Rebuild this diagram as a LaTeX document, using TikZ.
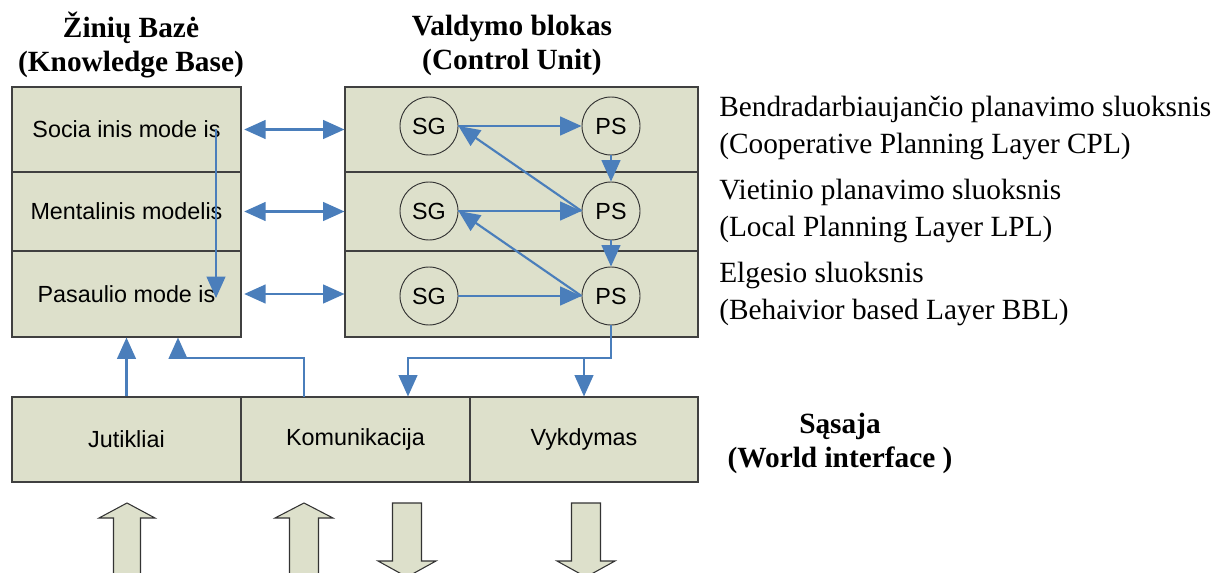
\documentclass[tikz,border=0pt]{standalone}
\usepackage{fontspec}
\setmainfont{Liberation Serif}
\setsansfont{Liberation Sans}
\usetikzlibrary{arrows.meta,calc}
\definecolor{boxfill}{HTML}{DDE0CB}
\definecolor{flow}{HTML}{4A7EBB}
\begin{document}
\begin{tikzpicture}[x=0.75pt,y=-0.75pt,
  panel/.style={draw=black!75,line width=0.8pt,fill=boxfill,inner sep=0pt,
    font=\sffamily\fontsize{17.5}{20}\selectfont},
  kbrow/.style={panel,minimum width=171.75pt},
  cuRow/.style={panel,minimum width=264.75pt},
  iface/.style={panel,minimum width=171.75pt,minimum height=63.75pt},
  unit/.style={circle,draw=black!80,line width=0.7pt,fill=boxfill,inner sep=0pt,
    minimum size=43.5pt,font=\sffamily\fontsize{17.5}{20}\selectfont},
  flowline/.style={draw=flow,line width=1.6pt},
  flowarrow/.style={flowline,-{Triangle[length=16pt,width=14pt]}},
  flowboth/.style={flowline,{Triangle[length=16pt,width=14pt]}-{Triangle[length=16pt,width=14pt]}},
  heading/.style={font=\rmfamily\bfseries\fontsize{22}{25.5}\selectfont,align=center},
  layerlabel/.style={font=\rmfamily\fontsize{22}{27.75}\selectfont,align=left,anchor=west,inner sep=0pt},
  bigarrow/.style={draw=black!80,line width=0.8pt,fill=boxfill}
]
\useasboundingbox (0,0) rectangle (1228,573);

% headings
\node[heading] (kbhead) at (131,45) {Žinių Bazė\\(Knowledge Base)};
\node[heading] (cuhead) at (512,45) {Valdymo blokas\\(Control Unit)};

% knowledge base rows
\node[kbrow,minimum height=63.75pt] (soc) at (126.5,129.5) {Socia inis mode is};
\node[kbrow,minimum height=59.25pt] (men) at (126.5,211.5) {Mentalinis modelis};
\node[kbrow,minimum height=64.5pt]  (pas) at (126.5,294)   {Pasaulio mode is};

% control unit layers
\node[cuRow,minimum height=63.75pt] (cpl) at (521.5,129.5) {};
\node[cuRow,minimum height=59.25pt] (lpl) at (521.5,211.5) {};
\node[cuRow,minimum height=64.5pt]  (bbl) at (521.5,294)   {};

% layer units
\node[unit] (sg1) at (429,126) {SG};
\node[unit] (ps1) at (611,126) {PS};
\node[unit] (sg2) at (429,211) {SG};
\node[unit] (ps2) at (611,211) {PS};
\node[unit] (sg3) at (429,296) {SG};
\node[unit] (ps3) at (611,296) {PS};

% layer names
\node[layerlabel] (cpltxt) at (719,127.5) {Bendradarbiaujančio planavimo sluoksnis\\(Cooperative Planning Layer CPL)};
\node[layerlabel] (lpltxt) at (719,210.5) {Vietinio planavimo sluoksnis\\(Local Planning Layer LPL)};
\node[layerlabel] (bbltxt) at (719,293.5) {Elgesio sluoksnis\\(Behaivior based Layer BBL)};

% world interface
\node[iface] (jut) at (126.5,439.5) {Jutikliai};
\node[iface] (kom) at (355.5,439.5) {Komunikacija};
\node[iface,minimum width=171pt] (vyk) at (584,439.5) {Vykdymas};
\node[heading] (ifhead) at (840,443) {Sąsaja\\(World interface )};

% knowledge base <-> control unit
\draw[flowboth,shorten <=2pt] (soc.east) -- (cpl.west);
\draw[flowboth,shorten <=2pt] (men.east) -- (lpl.west);
\draw[flowboth,shorten <=2pt] (pas.east) -- (bbl.west);

% flow inside the knowledge base
\coordinate (kbtop) at (216,129);
\coordinate (kbbot) at (216,298);
\draw[flowarrow] (kbtop) -- (kbbot);

% flow inside the control unit
\draw[flowarrow] (sg1.east) -- (ps1.west);
\draw[flowarrow] (ps2.west) -- (sg1.east);
\draw[flowarrow] (sg2.east) -- (ps2.west);
\draw[flowarrow] (ps3.west) -- (sg2.east);
\draw[flowarrow] (sg3.east) -- (ps3.west);
\draw[flowarrow] (ps1.south) -- (ps2.north);
\draw[flowarrow] (ps2.south) -- (ps3.north);

% control unit -> interface
\coordinate (bus) at (408,358);
\draw[flowarrow] (ps3.south) |- (bus) -- (bus |- kom.north);
\draw[flowarrow] (vyk.north |- bus) -- (vyk.north);

% interface -> knowledge base
\draw[flowarrow] (jut.north) -- (jut.north |- pas.south);
\coordinate (komup) at (304,397);
\coordinate (kombend) at (178,358);
\draw[flowarrow] (komup) |- (kombend) -- (kombend |- pas.south);

% exchange with the world
\begin{scope}
\clip (0,0) rectangle (1228,573);
\path[bigarrow] (113.5,590) -- (113.5,518) -- (99,518) -- (127,503) -- (155,518) -- (140.5,518) -- (140.5,590) -- cycle;
\path[bigarrow] (289.5,590) -- (289.5,518) -- (275,518) -- (304,503) -- (333,518) -- (318.5,518) -- (318.5,590) -- cycle;
\path[bigarrow] (392.5,503) -- (392.5,561) -- (378,561) -- (407,577) -- (436,561) -- (421.5,561) -- (421.5,503) -- cycle;
\path[bigarrow] (571.5,503) -- (571.5,561) -- (557,561) -- (586,577) -- (615,561) -- (600.5,561) -- (600.5,503) -- cycle;
\end{scope}
\end{tikzpicture}
\end{document}
